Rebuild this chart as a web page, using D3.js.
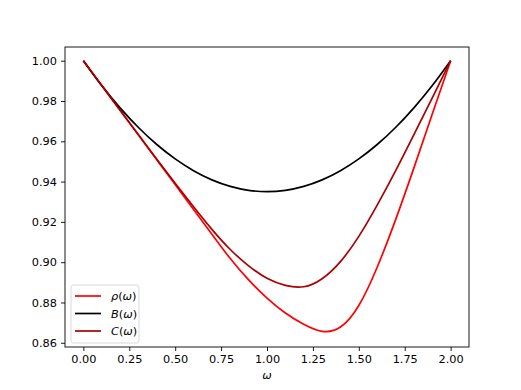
<!DOCTYPE html>
<html>
<head>
<meta charset="utf-8">
<script src="https://cdn.jsdelivr.net/npm/d3@7"></script>
<style>
  body { margin: 0; background: #fff; }
  text { font-family: "DejaVu Sans", sans-serif; }
</style>
</head>
<body>
<svg id="chart" width="521" height="390"></svg>
<script>
// values
const omega = [0, 0.1, 0.2, 0.3, 0.4, 0.5, 0.6, 0.7, 0.8, 0.9, 1.0, 1.1, 1.2, 1.3, 1.4, 1.5, 1.6, 1.7, 1.8, 1.9, 2.0];
const rhoVals = [1.0, 0.9877, 0.9754, 0.9631, 0.9508, 0.9385, 0.9262, 0.9139, 0.9018, 0.8912, 0.8822, 0.8748, 0.8692, 0.8657, 0.8678, 0.8785, 0.8975, 0.921, 0.9468, 0.9735, 1.0];
const bVals = [1.0, 0.98765, 0.9766, 0.96685, 0.9584, 0.95125, 0.9454, 0.94085, 0.9376, 0.93565, 0.935, 0.93565, 0.9376, 0.94085, 0.9454, 0.95125, 0.9584, 0.96685, 0.9766, 0.98765, 1.0];
const cVals = [1.0, 0.9877, 0.9754, 0.9632, 0.9511, 0.9392, 0.9275, 0.9163, 0.9063, 0.8982, 0.892, 0.8885, 0.8878, 0.8918, 0.9003, 0.9128, 0.9283, 0.9453, 0.9633, 0.9816, 1.0];
const xTicks = [0, 0.25, 0.5, 0.75, 1.0, 1.25, 1.5, 1.75, 2.0];
const yTicks = [0.86, 0.88, 0.90, 0.92, 0.94, 0.96, 0.98, 1.00];

const series = [
  { name: "ρ", vals: rhoVals, color: "#ff0000" },
  { name: "B", vals: bVals, color: "#000000" },
  { name: "C", vals: cVals, color: "#aa0000" }
];

const svg = d3.select("#chart");
const margin = { top: 47, right: 52, bottom: 43, left: 65 };
const width = +svg.attr("width") - margin.left - margin.right;
const height = +svg.attr("height") - margin.top - margin.bottom;

const g = svg.append("g").attr("transform", `translate(${margin.left},${margin.top})`);

const x = d3.scaleLinear().domain([-0.1, 2.1]).range([0, width]);
const y = d3.scaleLinear().domain([0.8579, 1.0068]).range([height, 0]);

const line = d3.line()
  .x((d, i) => x(omega[i]))
  .y(d => y(d))
  .curve(d3.curveNatural);

series.forEach(s => {
  g.append("path")
    .datum(s.vals)
    .attr("fill", "none")
    .attr("stroke", s.color)
    .attr("stroke-width", 1.7)
    .attr("d", line);
});

const xAxis = g.append("g")
  .attr("transform", `translate(0,${height})`)
  .call(d3.axisBottom(x).tickValues(xTicks).tickFormat(d3.format(".2f")).tickSize(4).tickPadding(4));
const yAxis = g.append("g")
  .call(d3.axisLeft(y).tickValues(yTicks).tickFormat(d3.format(".2f")).tickSize(4).tickPadding(4));

[xAxis, yAxis].forEach(a => {
  a.select(".domain").remove();
  a.selectAll("text").attr("font-size", 11.3).attr("fill", "#000").style("font-family", "DejaVu Sans");
  a.selectAll(".tick line").attr("stroke", "#000").attr("stroke-width", 0.9);
});

g.append("rect")
  .attr("width", width).attr("height", height)
  .attr("fill", "none").attr("stroke", "#000").attr("stroke-width", 0.9);

// x label
g.append("text")
  .attr("x", width / 2).attr("y", height + 32)
  .attr("text-anchor", "middle")
  .attr("font-size", 11.3)
  .attr("font-style", "italic")
  .text("ω");

// legend
const leg = g.append("g").attr("transform", `translate(6,${height - 62})`);
leg.append("rect")
  .attr("width", 68).attr("height", 58).attr("rx", 2.5)
  .attr("fill", "#fff").attr("fill-opacity", 0.8)
  .attr("stroke", "#d5d5d5").attr("stroke-width", 0.9);

series.forEach((s, i) => {
  const yy = 11 + i * 17.5;
  leg.append("line")
    .attr("x1", 4).attr("x2", 30).attr("y1", yy).attr("y2", yy)
    .attr("stroke", s.color).attr("stroke-width", 1.7);
  const t = leg.append("text")
    .attr("x", 40).attr("y", yy + 4)
    .attr("font-size", 11.3);
  t.append("tspan").attr("font-style", "italic").text(s.name);
  t.append("tspan").text("(");
  t.append("tspan").attr("font-style", "italic").text("ω");
  t.append("tspan").text(")");
});
</script>
</body>
</html>
